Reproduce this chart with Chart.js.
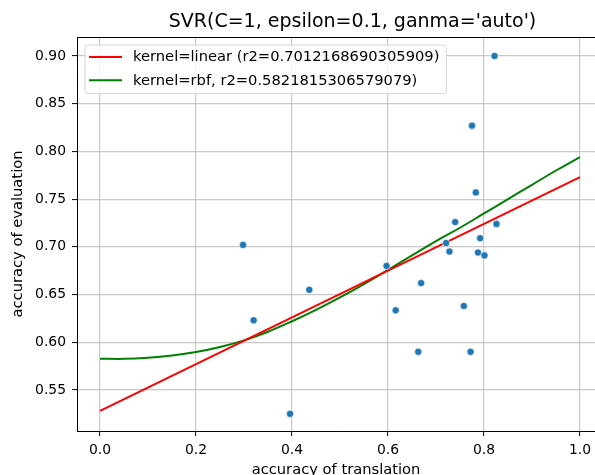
<!DOCTYPE html>
<html>
<head>
<meta charset="utf-8">
<script src="https://cdn.jsdelivr.net/npm/chart.js@4"></script>
<style>
html,body{margin:0;padding:0;background:#fff;}
#wrap{width:595px;height:475px;}
</style>
</head>
<body>
<div id="wrap"><canvas id="c" width="595" height="475"></canvas></div>
<script>
// scatter observations (accuracy of translation, accuracy of evaluation)
const obsX = [0.298, 0.320, 0.436, 0.396, 0.597, 0.616, 0.669, 0.663, 0.758, 0.772, 0.721, 0.728, 0.792, 0.7875, 0.801, 0.826, 0.740, 0.822, 0.775, 0.783];
const obsY = [0.702, 0.623, 0.655, 0.525, 0.680, 0.6335, 0.662, 0.590, 0.638, 0.590, 0.704, 0.695, 0.709, 0.694, 0.691, 0.724, 0.726, 0.900, 0.827, 0.757];
// linear kernel fit
const linX = [0, 1];
const linY = [0.528, 0.773];
// rbf kernel fit
const rbfX = [0, 0.05, 0.1, 0.15, 0.2, 0.25, 0.3, 0.35, 0.4, 0.45, 0.5, 0.55, 0.6, 0.65, 0.7, 0.75, 0.8, 0.85, 0.9, 0.95, 1.0];
const rbfY = [0.5828, 0.5826, 0.5838, 0.5862, 0.5898, 0.595, 0.602, 0.611, 0.622, 0.634, 0.647, 0.661, 0.676, 0.691, 0.706, 0.720, 0.735, 0.750, 0.765, 0.780, 0.794];
// labels and ticks
const titleText = "SVR(C=1, epsilon=0.1, ganma='auto')";
const linLabel = "kernel=linear (r2=0.7012168690305909)";
const rbfLabel = "kernel=rbf, r2=0.5821815306579079)";
const xTitle = "accuracy of translation";
const yTitle = "accuracy of evaluation";
const xTicks = [0.0, 0.2, 0.4, 0.6, 0.8, 1.0];
const yTicks = [0.55, 0.60, 0.65, 0.70, 0.75, 0.80, 0.85, 0.90];

const FONT = "'DejaVu Sans', sans-serif";
const zip = (xs, ys) => xs.map((x, i) => ({x: x, y: ys[i]}));

const framePlugin = {
  id: 'frame',
  afterDraw(chart) {
    const {ctx, chartArea: a} = chart;
    ctx.save();
    ctx.strokeStyle = '#000';
    ctx.lineWidth = 1;
    ctx.beginPath();
    ctx.moveTo(a.left, Math.round(a.top) + 0.5);
    ctx.lineTo(a.right, Math.round(a.top) + 0.5);
    ctx.stroke();
    // title
    ctx.fillStyle = '#000';
    ctx.font = "19px " + FONT;
    ctx.textAlign = 'center';
    ctx.textBaseline = 'middle';
    ctx.fillText(titleText, 352.5, 22);
    ctx.restore();
  }
};

const legendPlugin = {
  id: 'boxLegend',
  afterDraw(chart) {
    const ctx = chart.ctx;
    const a = chart.chartArea;
    const items = chart.data.datasets.filter(d => d.type === 'line');
    ctx.save();
    ctx.font = "14.7px " + FONT;
    let maxW = 0;
    items.forEach(d => { maxW = Math.max(maxW, ctx.measureText(d.label).width); });
    const x0 = a.left + 8, y0 = a.top + 8;
    const w = 48 + maxW + 7, h = 48.5;
    const r = 3;
    ctx.beginPath();
    ctx.moveTo(x0 + r, y0);
    ctx.lineTo(x0 + w - r, y0); ctx.quadraticCurveTo(x0 + w, y0, x0 + w, y0 + r);
    ctx.lineTo(x0 + w, y0 + h - r); ctx.quadraticCurveTo(x0 + w, y0 + h, x0 + w - r, y0 + h);
    ctx.lineTo(x0 + r, y0 + h); ctx.quadraticCurveTo(x0, y0 + h, x0, y0 + h - r);
    ctx.lineTo(x0, y0 + r); ctx.quadraticCurveTo(x0, y0, x0 + r, y0);
    ctx.closePath();
    ctx.fillStyle = 'rgba(255,255,255,0.8)';
    ctx.fill();
    ctx.strokeStyle = '#d6d6d6';
    ctx.lineWidth = 1;
    ctx.stroke();
    items.forEach((d, i) => {
      const yy = y0 + 12 + i * 23.3;
      ctx.strokeStyle = d.borderColor;
      ctx.lineWidth = 2;
      ctx.beginPath();
      ctx.moveTo(x0 + 4, yy);
      ctx.lineTo(x0 + 37, yy);
      ctx.stroke();
      ctx.fillStyle = '#000';
      ctx.textBaseline = 'middle';
      ctx.textAlign = 'left';
      ctx.fillText(d.label, x0 + 48, yy + 0.5);
    });
    ctx.restore();
  }
};

new Chart(document.getElementById('c'), {
  data: {
    datasets: [
      {
        type: 'scatter', label: 'data', data: zip(obsX, obsY), order: 0,
        backgroundColor: '#1f77b4', borderColor: '#ffffff', borderWidth: 0.6,
        pointRadius: 3.6, pointHoverRadius: 3.6
      },
      {
        type: 'line', label: linLabel, data: zip(linX, linY), order: 1,
        borderColor: '#ff0000', borderWidth: 2, pointRadius: 0, fill: false, tension: 0
      },
      {
        type: 'line', label: rbfLabel, data: zip(rbfX, rbfY), order: 2,
        borderColor: '#008000', borderWidth: 2, pointRadius: 0, fill: false,
        tension: 0.4
      }
    ]
  },
  options: {
    responsive: false,
    animation: false,
    events: [],
    layout: { autoPadding: false, padding: { left: 0, right: 0, top: 37, bottom: 0 } },
    plugins: {
      legend: { display: false },
      tooltip: { enabled: false },
      title: { display: false }
    },
    scales: {
      x: {
        type: 'linear', position: 'bottom',
        min: -0.048, max: 1.0313,
        afterBuildTicks: s => { s.ticks = xTicks.map(v => ({value: v})); },
        afterFit: s => { s.height = 44; s.paddingLeft = 0; s.paddingRight = 0; },
        ticks: {
          color: '#000', padding: 6, maxRotation: 0, autoSkip: false,
          font: { family: FONT, size: 13.9 },
          callback: v => Number(v).toFixed(1)
        },
        grid: { color: '#c8c8c8', lineWidth: 1.2, drawTicks: true, tickLength: 5, tickColor: '#000', tickWidth: 1 },
        border: { display: true, color: '#000', width: 1 },
        title: {
          display: true, text: xTitle, color: '#000',
          font: { family: FONT, size: 14.7, lineHeight: 1.2 },
          padding: { top: 0, bottom: -4 }
        }
      },
      y: {
        type: 'linear', position: 'left',
        min: 0.507, max: 0.9199,
        afterBuildTicks: s => { s.ticks = yTicks.map(v => ({value: v})); },
        afterFit: s => { s.width = 77; s.paddingTop = 0; s.paddingBottom = 0; },
        ticks: {
          color: '#000', padding: 6, autoSkip: false,
          font: { family: FONT, size: 13.9 },
          callback: v => Number(v).toFixed(2)
        },
        grid: { color: '#c8c8c8', lineWidth: 1.2, drawTicks: true, tickLength: 5, tickColor: '#000', tickWidth: 1 },
        border: { display: true, color: '#000', width: 1 },
        title: {
          display: true, text: yTitle, color: '#000',
          font: { family: FONT, size: 14.7, lineHeight: 1.2 },
          padding: { top: 9, bottom: 0 }
        }
      }
    }
  },
  plugins: [framePlugin, legendPlugin]
});
</script>
</body>
</html>
